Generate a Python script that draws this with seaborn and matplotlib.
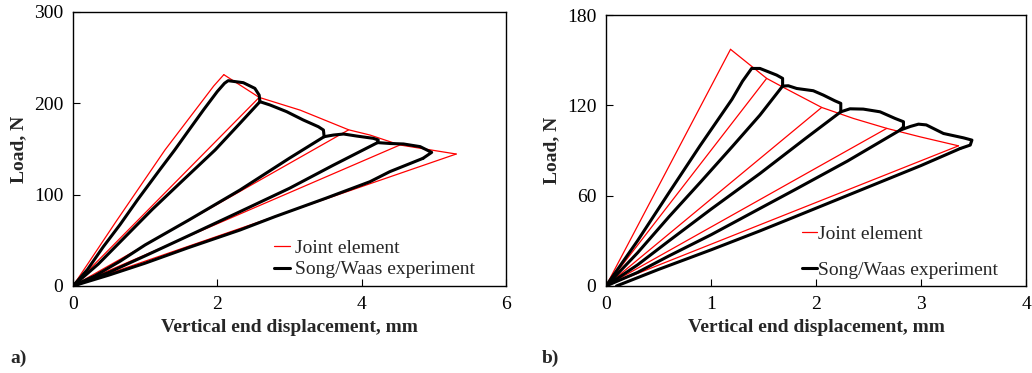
import pandas as pd
import matplotlib
matplotlib.use('Agg')
import matplotlib.pyplot as plt
from matplotlib.lines import Line2D
import seaborn as sns

# ---- panel a) joint element (model) ----
a_red_load_x = [0, 0.6, 1.275, 1.95, 2.09]
a_red_load_y = [0, 71, 149, 219, 231.4]
a_red_soft_x = [2.09, 2.58, 3.15, 3.82, 4.115, 4.53, 5.31]
a_red_soft_y = [231.4, 206.5, 192.5, 171, 165.3, 154.4, 144.5]
a_red_unload_x = [2.58, 3.82, 4.53, 5.31]
a_red_unload_y = [206.5, 171, 154.4, 144.5]

# ---- panel a) Song/Waas experiment, one list per branch ----
a_exp_x = [
    [0, 0.2, 0.42, 0.65, 0.9, 1.2, 1.41, 1.6, 1.81, 2.0, 2.1, 2.15, 2.36, 2.52, 2.58, 2.59],
    [2.59, 2.3, 1.97, 1.5, 1.1, 0.7, 0.35, 0],
    [2.59, 2.73, 2.96, 3.19, 3.40, 3.47, 3.48],
    [3.48, 3.0, 2.314, 1.6, 1.0, 0.65, 0.3, 0],
    [3.48, 3.61, 3.75, 3.93, 4.16, 4.23, 4.22],
    [4.22, 3.6, 3.0, 2.314, 1.6, 1.0, 0.5, 0],
    [4.22, 4.4, 4.58, 4.81, 4.97, 4.85],
    [4.85, 4.39, 4.115, 3.5, 2.8, 2.314, 1.6, 1.0, 0.5, 0],
]
a_exp_y = [
    [0, 18, 43, 67, 95, 127, 149, 170, 193, 213, 222, 224.8, 222.6, 216.4, 209, 201.8],
    [201.8, 177, 149, 114, 84, 52, 24, 0],
    [201.8, 198.2, 190.9, 181.8, 174.4, 170.8, 163.5],
    [163.5, 140, 105.1, 72, 45, 27, 11, 0],
    [163.5, 165.3, 166.4, 164.2, 161.7, 159.9, 157],
    [157, 132, 107, 81.4, 55, 33, 15, 0],
    [157, 156, 155.5, 152.6, 146.3, 139.8],
    [139.8, 125.2, 114.2, 96, 76, 61.3, 42, 25, 12, 0],
]

# ---- panel b) joint element (model) ----
b_red_load_x = [0, 1.186]
b_red_load_y = [0, 157.2]
b_red_soft_x = [1.186, 1.53, 1.69, 2.054, 2.356, 2.674, 2.99, 3.357]
b_red_soft_y = [157.2, 137.9, 131.9, 118.6, 111.3, 104.7, 99.1, 93.1]
b_red_unload_x = [1.53, 2.054, 2.674, 3.357]
b_red_unload_y = [137.9, 118.6, 104.7, 93.1]

# ---- panel b) Song/Waas experiment ----
b_exp_x = [
    [0, 0.3, 0.6, 0.894, 1.2, 1.3, 1.387, 1.466, 1.625, 1.682, 1.682],
    [1.682, 1.466, 1.2, 0.9, 0.6, 0.3, 0],
    [1.682, 1.736, 1.816, 1.974, 2.07, 2.18, 2.236, 2.236],
    [2.236, 1.9, 1.466, 1.0, 0.6, 0.3, 0],
    [2.236, 2.324, 2.45, 2.61, 2.753, 2.833, 2.833, 2.80],
    [2.80, 2.3, 1.8, 1.466, 1.0, 0.6, 0.3, 0],
    [2.80, 2.9, 2.976, 3.05, 3.214, 3.405, 3.485, 3.469, 3.373],
    [3.373, 3.0, 2.4, 1.8, 1.466, 1.0, 0.5, 0.1],
]
b_exp_y = [
    [0, 30, 62, 93, 124, 136, 144.5, 144.5, 140.1, 137.9, 132.8],
    [132.8, 113.5, 92.4, 69, 46, 22, 0],
    [132.8, 133, 131.2, 129.7, 126.8, 123, 121.3, 115.7],
    [115.7, 98, 74.7, 51, 30, 14, 0],
    [115.7, 117.7, 117.5, 115.7, 111.3, 109.1, 105.7, 103.5],
    [103.5, 83, 64, 51.5, 34, 20, 9, 0],
    [103.5, 106, 107.5, 107, 101.3, 98.4, 96.9, 93.6, 91.3],
    [91.3, 80, 63, 46, 36.6, 24, 11, 0],
]

legend_labels = ['Joint element', 'Song/Waas experiment']
FS = 14


def model_frame(load_x, load_y, soft_x, soft_y, un_x, un_y):
    rows = []
    for x, y in zip(load_x, load_y):
        rows.append(('load', x, y))
    for x, y in zip(soft_x, soft_y):
        rows.append(('soft', x, y))
    for i, (x, y) in enumerate(zip(un_x, un_y)):
        rows.append((f'un{i}', 0, 0))
        rows.append((f'un{i}', x, y))
    return pd.DataFrame(rows, columns=['seg', 'x', 'y'])


def exp_frame(xs, ys):
    rows = []
    for i, (sx, sy) in enumerate(zip(xs, ys)):
        for x, y in zip(sx, sy):
            rows.append((i, x, y))
    return pd.DataFrame(rows, columns=['seg', 'x', 'y'])


sns.set_theme(style='ticks')
plt.rcParams['font.family'] = ['Liberation Serif', 'DejaVu Serif']

fig = plt.figure(figsize=(10.32, 3.73), dpi=100)
ax1 = fig.add_axes([73 / 1032, 87 / 373, 433 / 1032, 274 / 373])
ax2 = fig.add_axes([606 / 1032, 87 / 373, 420 / 1032, 271 / 373])


def draw(ax, mdf, edf, xmax, ymax, xstep, ystep):
    sns.lineplot(data=mdf, x='x', y='y', units='seg', estimator=None, sort=False,
                 color='#ff0000', lw=0.9, ax=ax)
    sns.lineplot(data=edf, x='x', y='y', units='seg', estimator=None, sort=False,
                 color='black', lw=2.2, ax=ax, solid_joinstyle='round', solid_capstyle='round')
    ax.set_xlim(0, xmax)
    ax.set_ylim(0, ymax)
    ax.set_xticks(range(0, xmax + 1, xstep))
    ax.set_yticks(range(0, ymax + 1, ystep))
    ax.tick_params(direction='in', length=5, width=0.8, labelsize=FS, pad=7, colors='black')
    for s in ax.spines.values():
        s.set_visible(True)
        s.set_color('black')
        s.set_linewidth(1.0)
    ax.set_xlabel('Vertical end displacement, mm', fontsize=FS, fontweight='bold')
    ax.set_ylabel('Load, N', fontsize=FS, fontweight='bold')


draw(ax1, model_frame(a_red_load_x, a_red_load_y, a_red_soft_x, a_red_soft_y,
                      a_red_unload_x, a_red_unload_y),
     exp_frame(a_exp_x, a_exp_y), 6, 300, 2, 100)
draw(ax2, model_frame(b_red_load_x, b_red_load_y, b_red_soft_x, b_red_soft_y,
                      b_red_unload_x, b_red_unload_y),
     exp_frame(b_exp_x, b_exp_y), 4, 180, 1, 60)

ax1.xaxis.set_label_coords(0.5, -0.12)
ax1.yaxis.set_label_coords(-0.105, 0.5)
ax2.xaxis.set_label_coords(0.5, -0.12)
ax2.yaxis.set_label_coords(-0.108, 0.5)

handles = [Line2D([], [], color='#ff0000', lw=0.9), Line2D([], [], color='black', lw=2.2)]
ax1.legend(handles, legend_labels, loc='lower right', bbox_to_anchor=(0.952, -0.008),
           frameon=False, fontsize=FS, borderpad=0, handlelength=0.8,
           handletextpad=0.3, labelspacing=0.2)
ax2.legend(handles, legend_labels, loc='lower right', bbox_to_anchor=(0.957, -0.011),
           frameon=False, fontsize=FS, borderpad=0, handlelength=0.8,
           handletextpad=0.05, labelspacing=0.95)

fig.text(10 / 1032, 15 / 373, 'a)', fontsize=FS, fontweight='bold', va='center')
fig.text(542 / 1032, 15 / 373, 'b)', fontsize=FS, fontweight='bold', va='center')

fig.savefig('out.png', dpi=100)
